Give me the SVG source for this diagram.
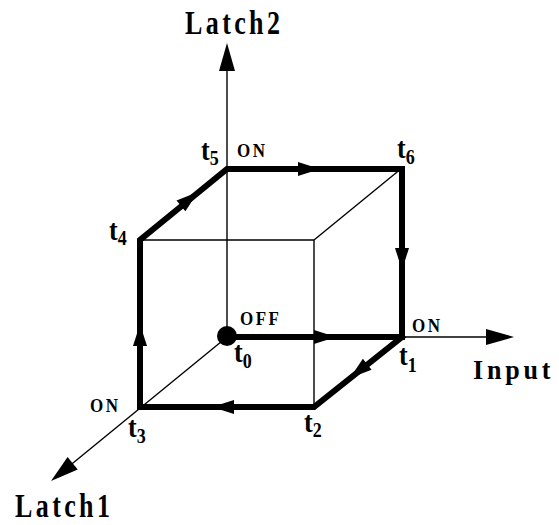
<svg xmlns="http://www.w3.org/2000/svg" width="559" height="525" viewBox="0 0 559 525">
<style>
.thin{stroke:#000;stroke-width:1.4;fill:none}
.heavy{stroke:#000;stroke-width:6;fill:none;stroke-linejoin:miter;stroke-linecap:square}
.ax{font-family:"Liberation Serif",serif;font-weight:bold;font-size:26px;letter-spacing:3.4px}
.inp{font-family:"Liberation Serif",serif;font-weight:bold;font-size:26px;letter-spacing:3.8px}
.t{font-family:"Liberation Serif",serif;font-weight:bold;font-size:26px}
.s{font-size:18px}
.on{font-family:"Liberation Serif",serif;font-weight:bold;font-size:17px;letter-spacing:2.5px}
</style>
<defs>
<polygon id="ah" points="0,0 -28,-8 -28,8"/>
<polygon id="mh" points="0,0 -22,-7 -22,7"/>
</defs>
<rect width="559" height="525" fill="#fff"/>
<g id="connectors">
<!-- axes -->
<line class="thin" x1="227" y1="337" x2="227" y2="60"/>
<use href="#ah" transform="translate(227,43) rotate(-90)"/>
<line class="thin" x1="402" y1="337" x2="500" y2="337"/>
<use href="#ah" transform="translate(514,337)"/>
<line class="thin" x1="227" y1="337" x2="62" y2="472"/>
<use href="#ah" transform="translate(51,481) rotate(140.7)"/>
<!-- thin cube edges -->
<line class="thin" x1="140" y1="240" x2="314" y2="240"/>
<line class="thin" x1="314" y1="240" x2="314" y2="407"/>
<line class="thin" x1="314" y1="240" x2="402" y2="168"/>
<!-- heavy path -->
<polyline class="heavy" points="227,337 402,337 402,169 227,169 140,240 140,407 314,407 402,337"/>
<use href="#mh" transform="translate(336,337)"/>
<use href="#mh" transform="translate(350,378) rotate(141.5)"/>
<use href="#mh" transform="translate(212,407) rotate(180)"/>
<use href="#mh" transform="translate(140,324) rotate(-90)"/>
<use href="#mh" transform="translate(198,192) rotate(-39.2)"/>
<use href="#mh" transform="translate(320,169)"/>
<use href="#mh" transform="translate(402,270) rotate(90)"/>
</g>
<g id="t0"><circle cx="227" cy="336" r="10"/><text class="t" transform="translate(234,362) scale(1,1.15)">t<tspan class="s" dy="5">0</tspan></text><text class="on" transform="translate(240,325) scale(1,1.1)">OFF</text></g>
<g id="t1"><text class="t" transform="translate(399,365) scale(1,1.15)">t<tspan class="s" dy="6">1</tspan></text><text class="on" transform="translate(412,332) scale(1,1.1)">ON</text></g>
<g id="t2"><text class="t" transform="translate(304,432) scale(1,1.15)">t<tspan class="s" dy="4">2</tspan></text></g>
<g id="t3"><text class="t" transform="translate(128,437) scale(1,1.15)">t<tspan class="s" dy="5">3</tspan></text><text class="on" transform="translate(90,412) scale(1,1.1)">ON</text></g>
<g id="t4"><text class="t" transform="translate(109,240) scale(1,1.15)">t<tspan class="s" dy="4">4</tspan></text></g>
<g id="t5"><text class="t" transform="translate(201,160) scale(1,1.15)">t<tspan class="s" dy="4">5</tspan></text><text class="on" transform="translate(237,157) scale(1,1.1)">ON</text></g>
<g id="t6"><text class="t" transform="translate(397,158) scale(1,1.15)">t<tspan class="s" dy="5">6</tspan></text></g>
<g id="labels">
<text class="ax" transform="translate(185,34) scale(1,1.3)">Latch2</text>
<text class="inp" transform="translate(473,379) scale(1,1.05)">Input</text>
<text class="ax" transform="translate(15,517) scale(1,1.3)">Latch1</text>
</g>
</svg>
